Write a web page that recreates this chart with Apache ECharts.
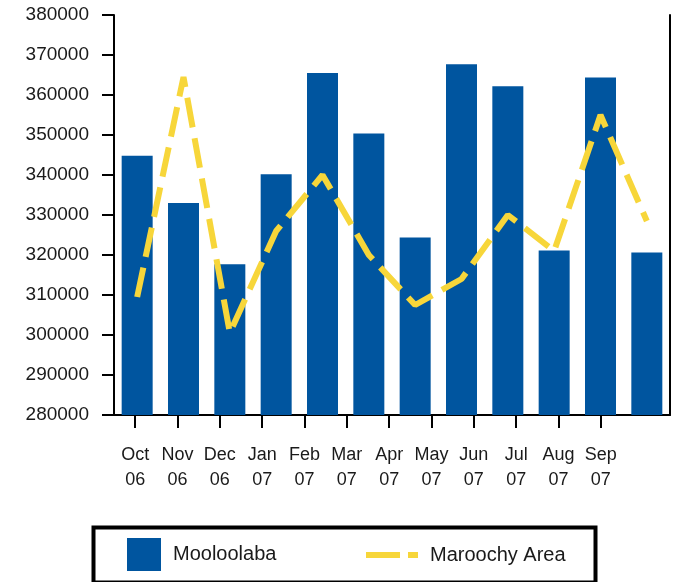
<!DOCTYPE html>
<html>
<head>
<meta charset="utf-8">
<script src="https://cdn.jsdelivr.net/npm/echarts@6/dist/echarts.min.js"></script>
<style>html,body{margin:0;padding:0;background:#fff;}#c{width:680px;height:582px;}</style>
</head>
<body>
<div id="c"></div>
<script>
var categories = ['Oct 06','Nov 06','Dec 06','Jan 07','Feb 07','Mar 07','Apr 07','May 07','Jun 07','Jul 07','Aug 07','Sep 07'];
var mooloolaba = [344800, 333000, 317700, 340200, 365500, 350400, 324400, 367700, 362200, 321100, 364400, 320600];
var maroochy = [309500, 364500, 300500, 326000, 340000, 320000, 307500, 314000, 330000, 321000, 355000, 328500];
var yMin = 280000, yMax = 380000, yStep = 10000;

var FONT = 'Liberation Sans, Arial, sans-serif';
var chart = echarts.init(document.getElementById('c'));
chart.setOption({
  animation: false,
  backgroundColor: '#fff',
  grid: [
    {left: 114, right: 10, top: 15, bottom: 167},
    {left: 114, right: 58, top: 15, bottom: 167}
  ],
  xAxis: [
    {type: 'category', gridIndex: 0, data: categories, boundaryGap: true,
     axisLine: {show: true, lineStyle: {color: '#000', width: 2}},
     axisTick: {show: false}, axisLabel: {show: false}, splitLine: {show: false}},
    {type: 'category', gridIndex: 1, data: categories, boundaryGap: true,
     axisLine: {show: false},
     axisTick: {show: true, alignWithLabel: true, length: 13, interval: 0, lineStyle: {color: '#000', width: 2}},
     axisLabel: {show: true, interval: 0, margin: 28, color: '#1a1a1a', fontFamily: FONT, fontSize: 18, lineHeight: 25,
       formatter: function (v) { return v.replace(' ', '\n'); }},
     splitLine: {show: false}}
  ],
  yAxis: [
    {type: 'value', gridIndex: 0, min: yMin, max: yMax, interval: yStep, position: 'left',
     axisLine: {show: true, lineStyle: {color: '#000', width: 2}},
     axisTick: {show: true, length: 12, lineStyle: {color: '#000', width: 2}},
     axisLabel: {show: true, margin: 25, color: '#1a1a1a', fontFamily: FONT, fontSize: 19,
       formatter: function (v) { return String(v); }},
     splitLine: {show: false}},
    {type: 'value', gridIndex: 0, min: yMin, max: yMax, interval: yStep, position: 'right',
     axisLine: {show: true, lineStyle: {color: '#000', width: 2}},
     axisTick: {show: false}, axisLabel: {show: false}, splitLine: {show: false}},
    {type: 'value', gridIndex: 1, min: yMin, max: yMax, show: false}
  ],
  legend: [
    {data: ['Mooloolaba'], left: 127, top: 538, padding: 0, icon: 'rect', itemWidth: 34, itemHeight: 33,
     textStyle: {color: '#1a1a1a', fontFamily: FONT, fontSize: 20, padding: [0, 0, 0, 7]}},
    {data: ['Maroochy Area'], left: 363, top: 545, padding: 0, itemWidth: 52, itemHeight: 20,
     itemStyle: {opacity: 0},
     lineStyle: {color: '#f7d63a', width: 6, type: [34, 8], cap: 'butt'},
     textStyle: {color: '#1a1a1a', fontFamily: FONT, fontSize: 20, padding: [0, 0, 0, 7]}}
  ],
  graphic: [
    {type: 'rect', left: 91, top: 525, shape: {width: 502, height: 55},
     style: {fill: 'none', stroke: '#000', lineWidth: 4}, silent: true}
  ],
  series: [
    {name: 'Mooloolaba', type: 'bar', xAxisIndex: 0, yAxisIndex: 0, data: mooloolaba,
     barWidth: 31, itemStyle: {color: '#00559f'}},
    {name: 'Maroochy Area', type: 'line', xAxisIndex: 0, yAxisIndex: 0, data: maroochy,
     symbol: 'none', z: 5,
     lineStyle: {color: '#f7d63a', width: 6, type: [30, 11], cap: 'butt'},
     itemStyle: {color: '#f7d63a'}}
  ]
});
</script>
</body>
</html>
